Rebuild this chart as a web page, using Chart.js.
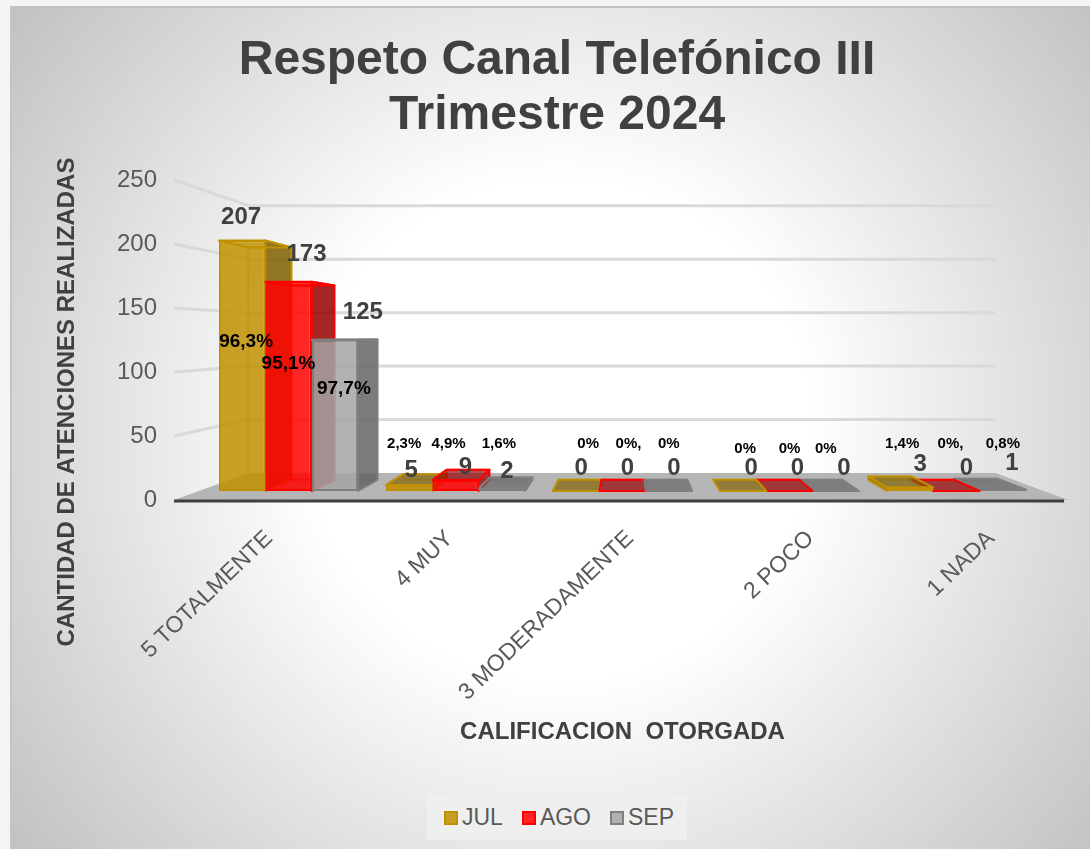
<!DOCTYPE html>
<html lang="es">
<head>
<meta charset="utf-8">
<title>Respeto Canal Telefónico III Trimestre 2024</title>
<script src="https://cdn.jsdelivr.net/npm/chart.js@4"></script>
<style>
    html, body { margin: 0; padding: 0; }
    body {
        width: 1090px; height: 849px; overflow: hidden; position: relative;
        font-family: "Liberation Sans", Arial, sans-serif;
        background: #f4f4f4;
    }
    #panel {
        position: absolute; left: 10px; top: 6px; width: 1080px; height: 843px;
        border-left: 2px solid #c4c4c4; border-top: 2px solid #c4c4c4; box-sizing: border-box;
        background: radial-gradient(circle 700px at 548px 422px, #fff 0, #fff 250px, #c0c0c0 700px);
    }
    #chart { position: absolute; left: 0; top: 0; }
    #legend {
        position: absolute; left: 427px; top: 795px; width: 260px; height: 45px; box-sizing: border-box;
        padding-left: 4px;
        background: #efefef; color: #595959; font-size: 23px;
        display: flex; align-items: center; justify-content: center; gap: 19px;
    }
    #legend span.item { display: flex; align-items: center; gap: 4px; }
    #legend i { display: block; width: 10px; height: 10px; border: 2px solid; }
</style>
</head>
<body>
<div id="panel"></div>
<canvas id="chart" width="1090" height="849"></canvas>
<div id="legend"></div>
<script>
const categories = ['5 TOTALMENTE', '4 MUY', '3 MODERADAMENTE', '2 POCO', '1 NADA'];
const seriesNames = ['JUL', 'AGO', 'SEP'];
const julValues = [207, 5, 0, 0, 3];
const agoValues = [173, 9, 0, 0, 0];
const sepValues = [125, 2, 0, 0, 1];
const julPercent = ['96,3%', '2,3%', '0%', '0%', '1,4%'];
const agoPercent = ['95,1%', '4,9%', '0%,', '0%', '0%,'];
const sepPercent = ['97,7%', '1,6%', '0%', '0%', '0,8%'];
const yTicks = [0, 50, 100, 150, 200, 250];

// label nudges, [dx, dy] from the bar top (values) or bar base (percents)
const valueNudge = [
    [[-1, -23], [2, -15], [5, -23], [8, -23], [10, -23]],
    [[18, -27], [10, -13], [5, -23], [8, -23], [10, -23]],
    [[28, -27], [5, -17], [5, -23], [8, -23], [9, -26]],
];
const percentNudge = [
    [[4, -149], [-5, -47], [12, -47], [2, -42], [-8, -47]],
    [[0, -127], [-7, -47], [6, -47], [0, -42], [-6, -47]],
    [[9, -102], [-3, -47], [0, -47], [-10, -42], [0, -47]],
];

const FONT = '"Liberation Sans", Arial, sans-serif';
const TEXT_GREY = '#595959';
const TITLE_GREY = '#404040';

// perspective of the fake 3D box
const VANISH_X = 627;
const VANISH_Y = 336;
const BAR_DEPTH = 0.928;
const WALL_DEPTH = 0.835;
const FLOOR_LEFT = 174;
const FLOOR_RIGHT = 1068;

function project(x, y, r) {
    return { x: VANISH_X + (x - VANISH_X) * r, y: VANISH_Y + (y - VANISH_Y) * r };
}

function poly(ctx, pts) {
    ctx.beginPath();
    pts.forEach((p, i) => (i ? ctx.lineTo(p.x, p.y) : ctx.moveTo(p.x, p.y)));
    ctx.closePath();
}

function drawWalls(chart) {
    const ctx = chart.ctx;
    const y = chart.scales.y;
    ctx.save();
    ctx.strokeStyle = '#d9d9d9';
    ctx.lineWidth = 3;
    y.ticks.forEach(t => {
        if (t.value === 0) return;
        const py = y.getPixelForValue(t.value);
        const back = project(FLOOR_LEFT, py, WALL_DEPTH);
        const backRight = project(FLOOR_RIGHT, py, WALL_DEPTH);
        ctx.beginPath();
        ctx.moveTo(FLOOR_LEFT, py);
        ctx.lineTo(back.x, back.y);
        ctx.lineTo(backRight.x, backRight.y);
        ctx.stroke();
    });
    const base = y.getPixelForValue(0);
    ctx.fillStyle = '#b5b5b5';
    poly(ctx, [
        { x: FLOOR_LEFT, y: base },
        { x: FLOOR_RIGHT, y: base },
        project(FLOOR_RIGHT, base, WALL_DEPTH),
        project(FLOOR_LEFT, base, WALL_DEPTH),
    ]);
    ctx.fill();
    ctx.strokeStyle = '#404040';
    ctx.beginPath();
    ctx.moveTo(FLOOR_LEFT, base + 1);
    ctx.lineTo(FLOOR_RIGHT - 4, base + 1);
    ctx.stroke();
    ctx.restore();
}

function drawBarBody(ctx, bar, ds) {
    const l = bar.x - bar.width / 2;
    const r = bar.x + bar.width / 2;
    const t = bar.y;
    const b = bar.base;
    const q = (x, y) => project(x, y, BAR_DEPTH);
    const sx = bar.x < VANISH_X ? r : l;
    const flat = b - t < 30;

    ctx.save();
    ctx.lineWidth = 2;
    ctx.lineJoin = 'round';
    ctx.strokeStyle = ds.borderColor;
    ctx.fillStyle = ds.sideColor;

    // back edges, seen through the front face
    ctx.globalAlpha = 0.5;
    poly(ctx, [q(l, b), q(r, b), q(r, t), q(l, t)]);
    ctx.stroke();
    ctx.globalAlpha = flat ? 0.8 : 1;

    // exposed side and top
    if (t !== b) {
        poly(ctx, [{ x: sx, y: t }, { x: sx, y: b }, q(sx, b), q(sx, t)]);
        ctx.fill();
    }
    poly(ctx, [{ x: l, y: t }, { x: r, y: t }, q(r, t), q(l, t)]);
    if (flat) ctx.fill();
    ctx.globalAlpha = 1;
    ctx.stroke();
    if (t !== b) {
        poly(ctx, [{ x: sx, y: t }, { x: sx, y: b }, q(sx, b), q(sx, t)]);
        ctx.stroke();
    }
    ctx.restore();
}

const box3dPlugin = {
    id: 'box3d',
    beforeDatasetsDraw(chart) {
        drawWalls(chart);
        const ctx = chart.ctx;
        const metas = chart.data.datasets.map((_, i) => chart.getDatasetMeta(i));
        categories.forEach((_, c) => {
            // bars nearer the vanishing point sit in front
            const order = metas[0].data[c].x + metas[0].data[c].width < VANISH_X ? metas : metas.slice().reverse();
            order.forEach(m => {
                const bar = m.data[c];
                drawBarBody(ctx, bar, chart.data.datasets[m.index]);
                bar.draw(ctx);
            });
        });
        return false;
    },
    afterDraw(chart) {
        const ctx = chart.ctx;
        ctx.save();
        ctx.textAlign = 'center';
        ctx.textBaseline = 'middle';
        chart.data.datasets.forEach((ds, s) => {
            chart.getDatasetMeta(s).data.forEach((bar, c) => {
                const v = valueNudge[s][c];
                ctx.fillStyle = TITLE_GREY;
                ctx.font = `bold 24px ${FONT}`;
                ctx.fillText(String(ds.data[c]), bar.x + v[0], bar.y + v[1]);
                const p = percentNudge[s][c];
                ctx.fillStyle = '#000';
                ctx.font = `bold ${c === 0 ? 19 : 15}px ${FONT}`;
                ctx.fillText(ds.percent[c], bar.x + p[0], bar.base + p[1]);
            });
        });
        // y axis title sits lower than the axis centre, so it is placed by hand
        ctx.translate(67, 402);
        ctx.rotate(-Math.PI / 2);
        ctx.fillStyle = TITLE_GREY;
        ctx.font = `bold 24px ${FONT}`;
        ctx.fillText('CANTIDAD DE ATENCIONES REALIZADAS', 0, 0);
        ctx.restore();
    },
};

const chart = new Chart(document.getElementById('chart'), {
    type: 'bar',
    data: {
        labels: categories,
        datasets: [
            { label: seriesNames[0], data: julValues, percent: julPercent, backgroundColor: 'rgba(191,144,0,0.85)', borderColor: '#bf9000', sideColor: 'rgba(127,96,0,0.85)' },
            { label: seriesNames[1], data: agoValues, percent: agoPercent, backgroundColor: 'rgba(255,0,0,0.85)', borderColor: '#ff0000', sideColor: 'rgba(150,0,0,0.85)' },
            { label: seriesNames[2], data: sepValues, percent: sepPercent, backgroundColor: 'rgba(165,165,165,0.85)', borderColor: '#7f7f7f', sideColor: 'rgba(100,100,100,0.85)' },
        ],
    },
    options: {
        responsive: false,
        animation: false,
        layout: { padding: { left: 74, right: 50, top: 0, bottom: 102 } },
        datasets: {
            bar: {
                xAxisID: 'x',
                yAxisID: 'yBars',
                categoryPercentage: 0.833,
                barPercentage: 1,
                borderWidth: 2,
                borderSkipped: false,
                inflateAmount: 0,
            },
        },
        plugins: {
            legend: { display: false },
            tooltip: { enabled: false },
            title: {
                display: true,
                text: ['Respeto Canal Telefónico III', 'Trimestre 2024'],
                color: TITLE_GREY,
                font: { family: FONT, size: 48, weight: 'bold', lineHeight: 1.146 },
                padding: { top: 33, bottom: 37 },
            },
        },
        scales: {
            // bars: sit on the plane a little behind the tick labels
            x: { display: false, offset: true, grid: { display: false } },
            yBars: { display: false, min: -7.44, max: 257 },
            // visible axes, on the front edge of the floor
            xFront: {
                type: 'linear',
                position: 'bottom',
                offset: false,
                min: -0.355,
                max: 4.271,
                afterBuildTicks: s => { s.ticks = categories.map((_, i) => ({ value: i })); },
                afterFit: s => { s.height = 247; },
                grid: { display: false, drawTicks: false, offset: false },
                border: { display: false },
                ticks: {
                    callback: v => categories[v],
                    autoSkip: false,
                    minRotation: 44,
                    maxRotation: 44,
                    padding: 25,
                    color: TEXT_GREY,
                    font: { family: FONT, size: 23 },
                },
                title: {
                    display: true,
                    text: 'CALIFICACION  OTORGADA',
                    color: TITLE_GREY,
                    padding: 0,
                    font: { family: FONT, size: 24, weight: 'bold' },
                },
            },
            y: {
                position: 'left',
                min: 0,
                max: 250,
                afterBuildTicks: s => { s.ticks = yTicks.map(v => ({ value: v })); },
                afterFit: s => { s.width = 131; },
                grid: { display: false, drawTicks: false },
                border: { display: false },
                ticks: { padding: 48, color: TEXT_GREY, font: { family: FONT, size: 24 } },
            },
        },
    },
    plugins: [box3dPlugin],
});

// legend as html: the swatch-to-text gap is tighter than the canvas legend allows
document.getElementById('legend').innerHTML = chart.data.datasets.map(ds => `
    <span class="item"><i style="background:${ds.backgroundColor};border-color:${ds.borderColor}"></i>${ds.label}</span>`).join('');
</script>
</body>
</html>
